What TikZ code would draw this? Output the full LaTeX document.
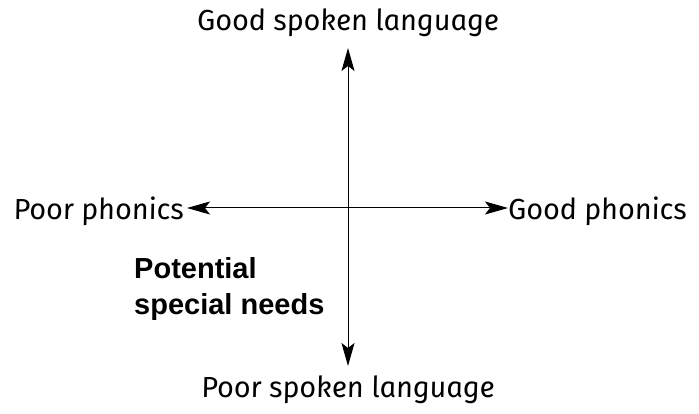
\documentclass[tikz,border=0pt]{standalone}
\usepackage{fontspec}
\setmainfont{Fira Sans}
\newfontfamily\axisfont[FakeSlant=-0.12]{Fira Sans Italic}
\newfontfamily\boldsans{Liberation Sans}
\usetikzlibrary{arrows.meta}

\tikzset{
	axislabel/.style={font=\axisfont\fontsize{29}{32}\selectfont, inner sep=1pt},
	axisarrow/.style={{Stealth[length=23pt,width=13pt,inset=5pt]}-{Stealth[length=23pt,width=13pt,inset=5pt]}, line width=1pt},
}

\begin{document}
\begin{tikzpicture}[x=1pt, y=-1pt]
			%Rahmen
			\useasboundingbox (0,0) rectangle (699,414);
			% Achsen beschriften
			\node[axislabel] (spokengood) at (349,23) {Good spoken language};
			\node[axislabel] (spokenpoor) at (349,390) {Poor spoken language};
			\node[axislabel, anchor=east] (phonicspoor) at (186,211) {Poor phonics};
			\node[axislabel, anchor=west] (phonicsgood) at (508,211) {Good phonics};
			% Achsen zeichnen
			\coordinate (top) at (348,48);
			\coordinate (bottom) at (348,366);
			\coordinate (left) at (187,208);
			\coordinate (right) at (508,208);
			\draw[axisarrow] (top) -- (bottom);
			\draw[axisarrow] (left) -- (right);
			%Beschriftung
			\node[anchor=north west, align=left, inner sep=0pt, font=\boldsans\bfseries\fontsize{29}{36}\selectfont] (needs) at (134,257) {Potential\\special needs};
		\end{tikzpicture}
\end{document}
